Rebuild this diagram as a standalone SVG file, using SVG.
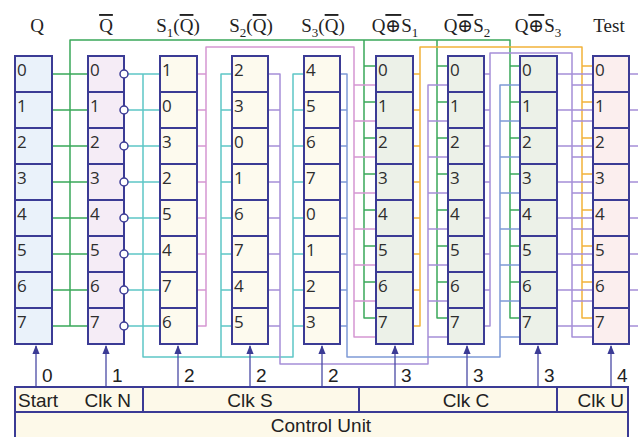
<svg xmlns="http://www.w3.org/2000/svg" width="638" height="437" viewBox="0 0 638 437">
<defs>
<style>
.cell{stroke:#3b3b95;stroke-width:2}
.c1{fill:#eaf2fa}.c2{fill:#f5ecf6}.c3{fill:#fdfaee}.c6{fill:#ecf1e8}.c9{fill:#fbeeee}
.d{font-family:"Open Sans","DejaVu Sans",sans-serif;font-size:17px;fill:#2e2e2e}
.h{font-family:"Liberation Serif","DejaVu Serif",serif;font-size:19px;fill:#222;text-anchor:middle}
.ov{text-decoration:overline}
.sub{font-size:13px}
.w{fill:none;stroke-width:1.5;stroke-linejoin:round}
.g{stroke:#3aa85a}.t{stroke:#5ec6c6}.p{stroke:#d596d2}.o{stroke:#f2b33a}.v{stroke:#a58fd8}.b{stroke:#7f9ad6}
.bub{fill:#fff;stroke:#3b3b95;stroke-width:1.5}
.ar{stroke:#4a4aa5;stroke-width:1.3;fill:none}
.lab{font-family:"Liberation Sans",Arial,sans-serif;font-size:19px;fill:#222}
.cu{fill:#fdf9e9;stroke:#3b3b95;stroke-width:2}
</style>
<marker id="ah" viewBox="0 0 10 10" refX="9" refY="5" markerWidth="7" markerHeight="7" orient="auto"><path d="M0 1L10 5L0 9Z" fill="#3b3b95"/></marker>
</defs>
<rect width="638" height="437" fill="#fff"/>

<g id="headers">
<text class="h" x="37" y="32">Q</text>
<text class="h" x="106" y="32"><tspan class="ov">Q</tspan></text>
<text class="h" x="178" y="32">S<tspan class="sub" dy="5">1</tspan><tspan dy="-5">(</tspan><tspan class="ov">Q</tspan>)</text>
<text class="h" x="251" y="32">S<tspan class="sub" dy="5">2</tspan><tspan dy="-5">(</tspan><tspan class="ov">Q</tspan>)</text>
<text class="h" x="323" y="32">S<tspan class="sub" dy="5">3</tspan><tspan dy="-5">(</tspan><tspan class="ov">Q</tspan>)</text>
<text class="h" x="395" y="32">Q<tspan class="ov">⊕</tspan>S<tspan class="sub" dy="5">1</tspan></text>
<text class="h" x="467" y="32">Q<tspan class="ov">⊕</tspan>S<tspan class="sub" dy="5">2</tspan></text>
<text class="h" x="538" y="32">Q<tspan class="ov">⊕</tspan>S<tspan class="sub" dy="5">3</tspan></text>
<text class="h" x="609" y="32">Test</text>
</g>

<g id="connectors">
<path class="w g" d="M52 74H88M52 110H88M52 146H88M52 182H88M52 218H88M52 254H88M52 290H88M52 326H88"/>
<path class="w g" d="M70 326V40H510V318H520M364 40V318H376M437 40V318H448"/>
<path class="w g" d="M364 66H376M364 102H376M364 138H376M364 174H376M364 210H376M364 246H376M364 282H376"/>
<path class="w g" d="M437 66H448M437 102H448M437 138H448M437 174H448M437 210H448M437 246H448M437 282H448"/>
<path class="w g" d="M510 66H520M510 102H520M510 138H520M510 174H520M510 210H520M510 246H520M510 282H520"/>
<path class="w t" d="M128 74H160M128 110H160M128 146H160M128 182H160M128 218H160M128 254H160M128 290H160M128 326H160"/>
<path class="w t" d="M143 74V357H293V74H304M232 74H221V357"/>
<path class="w t" d="M221 110H232M221 146H232M221 182H232M221 218H232M221 254H232M221 290H232M221 326H232"/>
<path class="w t" d="M293 110H304M293 146H304M293 182H304M293 218H304M293 254H304M293 290H304M293 326H304"/>
<path class="w p" d="M197 74H206M197 110H206M197 146H206M197 182H206M197 218H206M197 254H206M197 290H206"/>
<path class="w p" d="M197 326H206V47H354V337H376"/>
<path class="w p" d="M354 85H376M354 121H376M354 157H376M354 193H376M354 229H376M354 265H376M354 301H376"/>
<path class="w v" d="M268 110H280M268 146H280M268 182H280M268 218H280M268 254H280M268 290H280M268 326H280"/>
<path class="w v" d="M268 74H280V364H428V85H448"/>
<path class="w v" d="M428 121H448M428 157H448M428 193H448M428 229H448M428 265H448M428 301H448M428 337H448"/>
<path class="w b" d="M340 110H347M340 146H347M340 182H347M340 218H347M340 254H347M340 290H347M340 326H347"/>
<path class="w b" d="M340 74H347V357H500V85H520"/>
<path class="w b" d="M500 121H520M500 157H520M500 193H520M500 229H520M500 265H520M500 301H520M500 337H520"/>
<path class="w o" d="M413 74H420M413 110H420M413 146H420M413 182H420M413 218H420M413 254H420M413 290H420"/>
<path class="w o" d="M413 326H420V47H582V318H593"/>
<path class="w o" d="M582 66H593M582 102H593M582 138H593M582 174H593M582 210H593M582 246H593M582 282H593"/>
<path class="w v" d="M484 74H490M484 110H490M484 146H490M484 182H490M484 218H490M484 254H490M484 290H490"/>
<path class="w v" d="M484 326H490V53H572V337H593"/>
<path class="w v" d="M572 85H593M572 121H593M572 157H593M572 193H593M572 229H593M572 265H593M572 301H593"/>
<path class="w v" d="M557 74H593M557 110H593M557 146H593M557 182H593M557 218H593M557 254H593M557 290H593M557 326H593"/>
<path class="w v" d="M629 74H638M629 110H638M629 146H638M629 182H638M629 218H638M629 254H638M629 290H638M629 326H638"/>
<path class="ar" marker-end="url(#ah)" d="M36 387V346"/>
<path class="ar" marker-end="url(#ah)" d="M106 387V346"/>
<path class="ar" marker-end="url(#ah)" d="M178 387V346"/>
<path class="ar" marker-end="url(#ah)" d="M250 387V346"/>
<path class="ar" marker-end="url(#ah)" d="M322 387V346"/>
<path class="ar" marker-end="url(#ah)" d="M395 387V346"/>
<path class="ar" marker-end="url(#ah)" d="M467 387V346"/>
<path class="ar" marker-end="url(#ah)" d="M538 387V346"/>
<path class="ar" marker-end="url(#ah)" d="M611 387V346"/>
<text class="lab" x="42" y="382">0</text>
<text class="lab" x="112" y="382">1</text>
<text class="lab" x="184" y="382">2</text>
<text class="lab" x="256" y="382">2</text>
<text class="lab" x="328" y="382">2</text>
<text class="lab" x="401" y="382">3</text>
<text class="lab" x="473" y="382">3</text>
<text class="lab" x="544" y="382">3</text>
<text class="lab" x="617" y="382">4</text>
</g>

<g id="col-Q">
<rect class="cell c1" x="15" y="56" width="37" height="36"/><rect class="cell c1" x="15" y="92" width="37" height="36"/><rect class="cell c1" x="15" y="128" width="37" height="36"/><rect class="cell c1" x="15" y="164" width="37" height="36"/><rect class="cell c1" x="15" y="200" width="37" height="36"/><rect class="cell c1" x="15" y="236" width="37" height="36"/><rect class="cell c1" x="15" y="272" width="37" height="36"/><rect class="cell c1" x="15" y="308" width="37" height="36"/>
<text class="d" x="17" y="76">0</text><text class="d" x="17" y="112">1</text><text class="d" x="17" y="148">2</text><text class="d" x="17" y="184">3</text><text class="d" x="17" y="220">4</text><text class="d" x="17" y="256">5</text><text class="d" x="17" y="292">6</text><text class="d" x="17" y="328">7</text>
</g>
<g id="col-Qbar">
<rect class="cell c2" x="88" y="56" width="36" height="36"/><rect class="cell c2" x="88" y="92" width="36" height="36"/><rect class="cell c2" x="88" y="128" width="36" height="36"/><rect class="cell c2" x="88" y="164" width="36" height="36"/><rect class="cell c2" x="88" y="200" width="36" height="36"/><rect class="cell c2" x="88" y="236" width="36" height="36"/><rect class="cell c2" x="88" y="272" width="36" height="36"/><rect class="cell c2" x="88" y="308" width="36" height="36"/>
<text class="d" x="90" y="76">0</text><text class="d" x="90" y="112">1</text><text class="d" x="90" y="148">2</text><text class="d" x="90" y="184">3</text><text class="d" x="90" y="220">4</text><text class="d" x="90" y="256">5</text><text class="d" x="90" y="292">6</text><text class="d" x="90" y="328">7</text>
<circle class="bub" cx="124" cy="74" r="4"/><circle class="bub" cx="124" cy="110" r="4"/><circle class="bub" cx="124" cy="146" r="4"/><circle class="bub" cx="124" cy="182" r="4"/><circle class="bub" cx="124" cy="218" r="4"/><circle class="bub" cx="124" cy="254" r="4"/><circle class="bub" cx="124" cy="290" r="4"/><circle class="bub" cx="124" cy="326" r="4"/>
</g>
<g id="col-S1">
<rect class="cell c3" x="160" y="56" width="37" height="36"/><rect class="cell c3" x="160" y="92" width="37" height="36"/><rect class="cell c3" x="160" y="128" width="37" height="36"/><rect class="cell c3" x="160" y="164" width="37" height="36"/><rect class="cell c3" x="160" y="200" width="37" height="36"/><rect class="cell c3" x="160" y="236" width="37" height="36"/><rect class="cell c3" x="160" y="272" width="37" height="36"/><rect class="cell c3" x="160" y="308" width="37" height="36"/>
<text class="d" x="162" y="76">1</text><text class="d" x="162" y="112">0</text><text class="d" x="162" y="148">3</text><text class="d" x="162" y="184">2</text><text class="d" x="162" y="220">5</text><text class="d" x="162" y="256">4</text><text class="d" x="162" y="292">7</text><text class="d" x="162" y="328">6</text>
</g>
<g id="col-S2">
<rect class="cell c3" x="232" y="56" width="36" height="36"/><rect class="cell c3" x="232" y="92" width="36" height="36"/><rect class="cell c3" x="232" y="128" width="36" height="36"/><rect class="cell c3" x="232" y="164" width="36" height="36"/><rect class="cell c3" x="232" y="200" width="36" height="36"/><rect class="cell c3" x="232" y="236" width="36" height="36"/><rect class="cell c3" x="232" y="272" width="36" height="36"/><rect class="cell c3" x="232" y="308" width="36" height="36"/>
<text class="d" x="234" y="76">2</text><text class="d" x="234" y="112">3</text><text class="d" x="234" y="148">0</text><text class="d" x="234" y="184">1</text><text class="d" x="234" y="220">6</text><text class="d" x="234" y="256">7</text><text class="d" x="234" y="292">4</text><text class="d" x="234" y="328">5</text>
</g>
<g id="col-S3">
<rect class="cell c3" x="304" y="56" width="36" height="36"/><rect class="cell c3" x="304" y="92" width="36" height="36"/><rect class="cell c3" x="304" y="128" width="36" height="36"/><rect class="cell c3" x="304" y="164" width="36" height="36"/><rect class="cell c3" x="304" y="200" width="36" height="36"/><rect class="cell c3" x="304" y="236" width="36" height="36"/><rect class="cell c3" x="304" y="272" width="36" height="36"/><rect class="cell c3" x="304" y="308" width="36" height="36"/>
<text class="d" x="306" y="76">4</text><text class="d" x="306" y="112">5</text><text class="d" x="306" y="148">6</text><text class="d" x="306" y="184">7</text><text class="d" x="306" y="220">0</text><text class="d" x="306" y="256">1</text><text class="d" x="306" y="292">2</text><text class="d" x="306" y="328">3</text>
</g>
<g id="col-X1">
<rect class="cell c6" x="376" y="56" width="37" height="36"/><rect class="cell c6" x="376" y="92" width="37" height="36"/><rect class="cell c6" x="376" y="128" width="37" height="36"/><rect class="cell c6" x="376" y="164" width="37" height="36"/><rect class="cell c6" x="376" y="200" width="37" height="36"/><rect class="cell c6" x="376" y="236" width="37" height="36"/><rect class="cell c6" x="376" y="272" width="37" height="36"/><rect class="cell c6" x="376" y="308" width="37" height="36"/>
<text class="d" x="378" y="76">0</text><text class="d" x="378" y="112">1</text><text class="d" x="378" y="148">2</text><text class="d" x="378" y="184">3</text><text class="d" x="378" y="220">4</text><text class="d" x="378" y="256">5</text><text class="d" x="378" y="292">6</text><text class="d" x="378" y="328">7</text>
</g>
<g id="col-X2">
<rect class="cell c6" x="448" y="56" width="36" height="36"/><rect class="cell c6" x="448" y="92" width="36" height="36"/><rect class="cell c6" x="448" y="128" width="36" height="36"/><rect class="cell c6" x="448" y="164" width="36" height="36"/><rect class="cell c6" x="448" y="200" width="36" height="36"/><rect class="cell c6" x="448" y="236" width="36" height="36"/><rect class="cell c6" x="448" y="272" width="36" height="36"/><rect class="cell c6" x="448" y="308" width="36" height="36"/>
<text class="d" x="450" y="76">0</text><text class="d" x="450" y="112">1</text><text class="d" x="450" y="148">2</text><text class="d" x="450" y="184">3</text><text class="d" x="450" y="220">4</text><text class="d" x="450" y="256">5</text><text class="d" x="450" y="292">6</text><text class="d" x="450" y="328">7</text>
</g>
<g id="col-X3">
<rect class="cell c6" x="520" y="56" width="37" height="36"/><rect class="cell c6" x="520" y="92" width="37" height="36"/><rect class="cell c6" x="520" y="128" width="37" height="36"/><rect class="cell c6" x="520" y="164" width="37" height="36"/><rect class="cell c6" x="520" y="200" width="37" height="36"/><rect class="cell c6" x="520" y="236" width="37" height="36"/><rect class="cell c6" x="520" y="272" width="37" height="36"/><rect class="cell c6" x="520" y="308" width="37" height="36"/>
<text class="d" x="522" y="76">0</text><text class="d" x="522" y="112">1</text><text class="d" x="522" y="148">2</text><text class="d" x="522" y="184">3</text><text class="d" x="522" y="220">4</text><text class="d" x="522" y="256">5</text><text class="d" x="522" y="292">6</text><text class="d" x="522" y="328">7</text>
</g>
<g id="col-Test">
<rect class="cell c9" x="593" y="56" width="36" height="36"/><rect class="cell c9" x="593" y="92" width="36" height="36"/><rect class="cell c9" x="593" y="128" width="36" height="36"/><rect class="cell c9" x="593" y="164" width="36" height="36"/><rect class="cell c9" x="593" y="200" width="36" height="36"/><rect class="cell c9" x="593" y="236" width="36" height="36"/><rect class="cell c9" x="593" y="272" width="36" height="36"/><rect class="cell c9" x="593" y="308" width="36" height="36"/>
<text class="d" x="595" y="76">0</text><text class="d" x="595" y="112">1</text><text class="d" x="595" y="148">2</text><text class="d" x="595" y="184">3</text><text class="d" x="595" y="220">4</text><text class="d" x="595" y="256">5</text><text class="d" x="595" y="292">6</text><text class="d" x="595" y="328">7</text>
</g>

<g id="control-unit">
<rect class="cu" x="15" y="387" width="613" height="60"/>
<path d="M15 412H628M143 387V412M359 387V412M557 387V412" stroke="#3b3b95" stroke-width="2" fill="none"/>
<text class="lab" x="18" y="407">Start</text>
<text class="lab" x="131" y="407" text-anchor="end">Clk N</text>
<text class="lab" x="250" y="407" text-anchor="middle">Clk S</text>
<text class="lab" x="466" y="407" text-anchor="middle">Clk C</text>
<text class="lab" x="624" y="407" text-anchor="end">Clk U</text>
<text class="lab" x="321" y="432" text-anchor="middle">Control Unit</text>
</g>
</svg>
